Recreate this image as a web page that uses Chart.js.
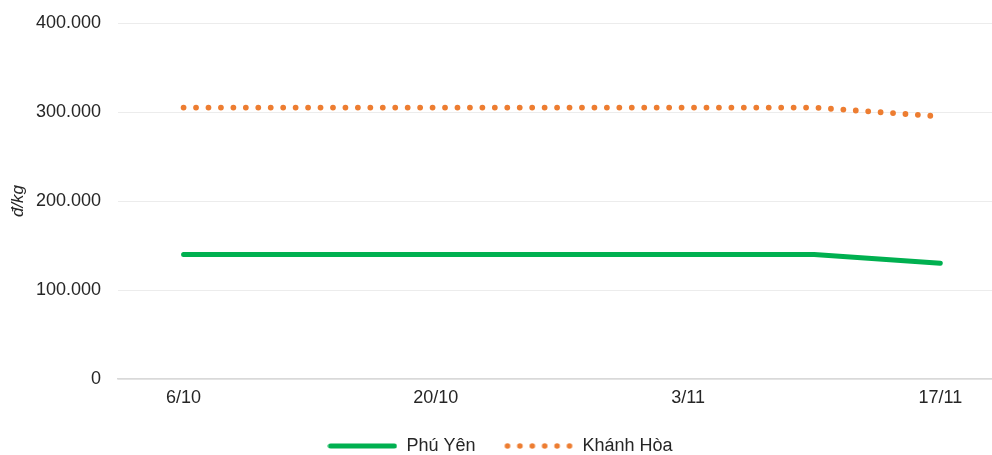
<!DOCTYPE html>
<html>
<head>
<meta charset="utf-8">
<script src="https://cdn.jsdelivr.net/npm/chart.js@4"></script>
<style>
  html, body { margin: 0; padding: 0; background: #fff; }
  #wrap { width: 992px; height: 455px; }
</style>
</head>
<body>
<div id="wrap"><canvas id="priceChart" width="992" height="455"></canvas></div>
<script>
const weeks = ["6/10", "13/10", "20/10", "27/10", "3/11", "10/11", "17/11"];
const phuYen = [140000, 140000, 140000, 140000, 140000, 140000, 130000];
const khanhHoa = [305000, 305000, 305000, 305000, 305000, 305000, 295000];
const yTicks = [0, 100000, 200000, 300000, 400000];
const xTicks = [0, 2, 4, 6];

const GREEN = "#00B050";
const ORANGE = "#ED7D31";

function fmt(v) {
    return String(v).replace(/\B(?=(\d{3})+(?!\d))/g, ".");
}

// small canvases used as legend samples
function solidSample(color) {
    const c = document.createElement("canvas");
    c.width = 70; c.height = 8;
    const g = c.getContext("2d");
    g.strokeStyle = color;
    g.lineWidth = 5;
    g.lineCap = "round";
    g.beginPath();
    g.moveTo(3, 4);
    g.lineTo(67, 4);
    g.stroke();
    return c;
}

function dotSample(color) {
    const c = document.createElement("canvas");
    c.width = 70; c.height = 8;
    const g = c.getContext("2d");
    g.fillStyle = color;
    for (let i = 0; i < 6; i++) {
        g.beginPath();
        g.arc(4 + i * 12.4, 4, 2.8, 0, Math.PI * 2);
        g.fill();
    }
    return c;
}

Chart.defaults.font.family = "'Liberation Sans', Arial, sans-serif";
Chart.defaults.color = "#262626";

const ctx = document.getElementById("priceChart").getContext("2d");
new Chart(ctx, {
    type: "line",
    data: {
        datasets: [
            {
                label: "Phú Yên",
                data: phuYen.map((v, i) => ({ x: i, y: v })),
                borderColor: GREEN,
                backgroundColor: GREEN,
                borderWidth: 5,
                borderCapStyle: "round",
                pointRadius: 0,
                pointStyle: solidSample(GREEN),
                tension: 0,
                fill: false
            },
            {
                label: "Khánh Hòa",
                data: khanhHoa.map((v, i) => ({ x: i, y: v })),
                borderColor: ORANGE,
                backgroundColor: ORANGE,
                borderWidth: 5.8,
                borderDash: [0, 12.45],
                borderCapStyle: "round",
                pointRadius: 0,
                pointStyle: dotSample(ORANGE),
                tension: 0,
                fill: false
            }
        ]
    },
    options: {
        responsive: false,
        animation: false,
        layout: { padding: { top: 23, right: 0, left: 8, bottom: -10 } },
        plugins: {
            legend: {
                position: "bottom",
                labels: {
                    usePointStyle: true,
                    pointStyleWidth: 70,
                    boxHeight: 8,
                    padding: 28,
                    font: { size: 18 },
                    color: "#262626"
                }
            },
            tooltip: { enabled: false }
        },
        scales: {
            x: {
                type: "linear",
                min: -0.52,
                max: 6.41,
                afterBuildTicks: axis => {
                    axis.ticks = xTicks.map(v => ({ value: v }));
                },
                afterFit: axis => { axis.height = 30; },
                ticks: {
                    callback: v => weeks[v],
                    font: { size: 18 },
                    padding: 8,
                    maxRotation: 0
                },
                grid: { display: false, drawTicks: false },
                border: { display: true, color: "#d9d9d9", width: 1.5 }
            },
            y: {
                min: 0,
                max: 400000,
                afterBuildTicks: axis => {
                    axis.ticks = yTicks.map(v => ({ value: v }));
                },
                afterFit: axis => {
                    axis.width = 110;
                    axis.paddingTop = 0;
                    axis.paddingBottom = 0;
                },
                ticks: {
                    callback: v => fmt(v),
                    font: { size: 18 },
                    padding: 17
                },
                grid: { color: "#ececec", drawTicks: false },
                border: { display: false },
                title: {
                    display: true,
                    text: "đ/kg",
                    font: { size: 17, style: "italic" },
                    padding: 0
                }
            }
        }
    }
});
</script>
</body>
</html>
